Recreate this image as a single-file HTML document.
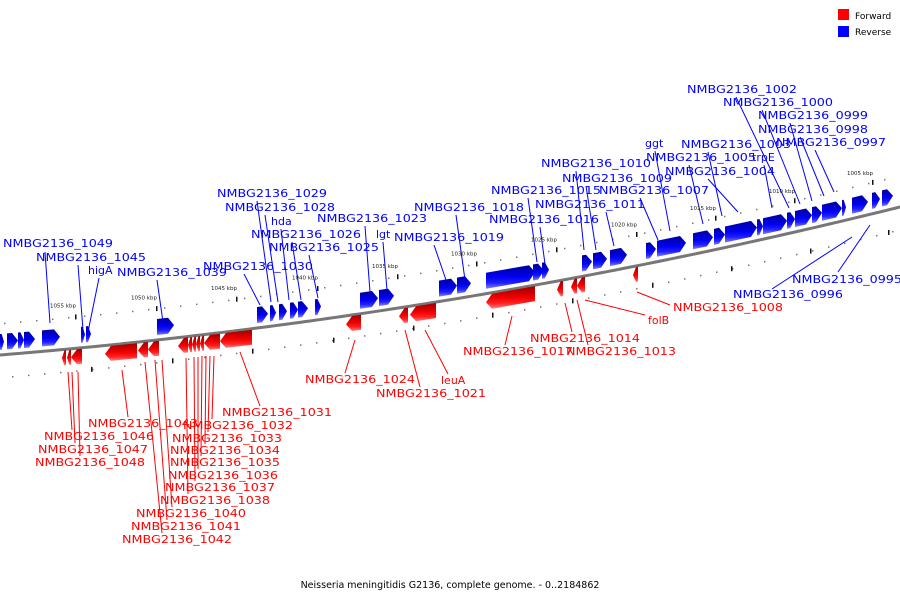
<!DOCTYPE html>
<html><head><meta charset="utf-8"><style>
html,body{margin:0;padding:0;background:#fff;}
svg{display:block;font-family:"DejaVu Sans","Liberation Sans",sans-serif;}
</style></head><body>
<svg id="chart" width="900" height="600" viewBox="0 0 900 600">
<defs>
<linearGradient id="gb" x1="0" y1="0" x2="0" y2="1"><stop offset="0" stop-color="#00009a"/><stop offset="0.5" stop-color="#0000f0"/><stop offset="0.75" stop-color="#2020ff"/><stop offset="1" stop-color="#8080ff"/></linearGradient>
<linearGradient id="gr" x1="0" y1="0" x2="0" y2="1"><stop offset="0" stop-color="#a00000"/><stop offset="0.5" stop-color="#f00000"/><stop offset="0.75" stop-color="#ff2020"/><stop offset="1" stop-color="#ff8080"/></linearGradient>
</defs>
<g id="dots"></g>
<path id="axis" fill="none" stroke="#777" stroke-width="3"/>
<g id="genes"></g>
<g id="labels"></g>
<g id="kbp"></g>
<g>
<rect x="838" y="9" width="11" height="11" fill="#f00"/>
<text x="855" y="19" font-size="9">Forward</text>
<rect x="838" y="26" width="11" height="11" fill="#00f"/>
<text x="855" y="35" font-size="9">Reverse</text>
</g>
<text x="450" y="588" font-size="9.5" text-anchor="middle">Neisseria meningitidis G2136, complete genome. - 0..2184862</text>
</svg>
<script>
const blueStarts=[0,7,18,24,42,81,86,157,257,270,279,290,298,315,360,379,439,457,486,533,542,582,593,610,646,657,693,714,725,757,763,787,795,812,822,842,852,872,882];
const blueEnds=[4,18,24,35,60,85,91,174,268,276,287,298,308,321,378,394,457,471,535,544,549,592,607,627,656,686,713,725,757,763,787,795,812,822,842,846,868,880,893];
const redStarts=[62,67,71,105,138,148,178,188,192,196,200,204,220,346,399,410,486,557,571,577,633];
const redEnds=[66,71,82,137,148,159,188,192,196,200,204,220,252,361,408,436,535,563,577,585,638];
const kbpLabels=["1055 kbp","1050 kbp","1045 kbp","1040 kbp","1035 kbp","1030 kbp","1025 kbp","1020 kbp","1015 kbp","1010 kbp","1005 kbp"];
const kbpX=[63,144,224,305,385,464,544,624,703,782,860];
// labels: text, text x, text y, gene x, gene y, leader x, leader y
const blueLabels=[
["NMBG2136_1049",3,247,50,323,45,252],["NMBG2136_1045",36,261,83,330,78,265],["higA",88,274,88,332,99,278],
["NMBG2136_1039",117,276,163,322,157,280],["NMBG2136_1030",203,270,260,305,244,274],
["NMBG2136_1029",217,197,271,302,257,201],["NMBG2136_1028",225,211,278,302,265,215],["hda",271,225,289,300,281,229],
["NMBG2136_1026",251,238,301,300,292,242],["NMBG2136_1025",269,251,318,298,309,255],["NMBG2136_1023",317,222,370,292,365,226],
["lgt",376,238,387,290,383,242],["NMBG2136_1018",414,211,465,280,456,215],["NMBG2136_1019",394,241,446,280,434,245],
["NMBG2136_1015",491,194,537,262,528,198],["NMBG2136_1016",489,223,545,264,540,227],["NMBG2136_1010",541,167,584,250,576,171],
["NMBG2136_1009",562,182,596,250,586,186],["NMBG2136_1011",535,208,614,246,606,212],["NMBG2136_1007",599,194,658,240,640,198],
["ggt",645,147,670,231,655,151],["NMBG2136_1005",646,161,703,224,689,165],["NMBG2136_1004",665,175,738,212,708,179],
["NMBG2136_1003",681,148,722,216,708,152],["trpE",752,161,772,208,764,165],["NMBG2136_1002",687,93,789,208,736,97],
["NMBG2136_1000",723,106,800,204,762,110],["NMBG2136_0999",758,119,812,201,790,123],["NMBG2136_0998",758,133,824,196,800,137],
["NMBG2136_0997",776,146,834,192,815,150],["NMBG2136_0995",792,283,870,225,838,272],["NMBG2136_0996",733,298,852,237,772,289]];
const redLabels=[
["NMBG2136_1046",44,440,68,372,72,430],["NMBG2136_1047",38,453,72,372,75,443],["NMBG2136_1048",35,466,78,372,80,456],
["NMBG2136_1043",88,427,122,370,128,417],["NMBG2136_1031",222,416,240,352,260,406],["NMBG2136_1032",183,429,214,356,212,419],
["NMBG2136_1033",172,442,210,356,208,432],["NMBG2136_1034",170,454,206,356,205,444],["NMBG2136_1035",170,466,202,356,201,456],
["NMBG2136_1036",168,479,198,357,198,469],["NMBG2136_1037",165,491,194,357,195,481],["NMBG2136_1038",160,504,186,358,188,494],
["NMBG2136_1040",136,517,162,360,172,507],["NMBG2136_1041",131,530,155,360,167,520],["NMBG2136_1042",122,543,145,362,162,533],
["NMBG2136_1024",305,383,355,340,345,373],["leuA",441,384,425,330,448,374],["NMBG2136_1021",376,397,405,330,420,387],
["NMBG2136_1017",463,355,512,316,505,345],["NMBG2136_1014",530,342,565,303,572,332],["NMBG2136_1013",566,355,577,300,588,345],
["folB",648,324,585,300,645,315],["NMBG2136_1008",673,311,637,292,670,305]];
const NS="http://www.w3.org/2000/svg";
function axisY(x){return 355-0.0811*x-0.0000926*x*x;}
function mk(t,a,p){const e=document.createElementNS(NS,t);for(const k in a)e.setAttribute(k,a[k]);p.appendChild(e);return e;}
let d="";for(let x=-5;x<=905;x+=5)d+=(x<0?"M":"L")+x+","+axisY(x).toFixed(2);
document.getElementById("axis").setAttribute("d",d);
const dots=document.getElementById("dots");
for(let x=4;x<900;x+=16){
 const a=mk("rect",{x:x,y:axisY(x)-32,width:1.5,height:1.5,fill:"#777"},dots);
 
 
 const b=mk("rect",{x:x+8,y:axisY(x+8)+22,width:1.5,height:1.5,fill:"#777"},dots);
 
 
}
const kg=document.getElementById("kbp");
kbpLabels.forEach((t,i)=>{const x=kbpX[i];
 const e=mk("text",{x:x,y:axisY(x)-42,"font-size":"5.5","text-anchor":"middle",fill:"#222"},kg);e.textContent=t;
 
 
 const m=mk("rect",{x:x+12,y:axisY(x+12)-34,width:1.5,height:5,fill:"#111"},kg);
 
 
 const m2=mk("rect",{x:x+28,y:axisY(x+28)+20,width:1.5,height:5,fill:"#111"},kg);
 
 
});
const gg=document.getElementById("genes");
function gene(x0,x1,blue){
 const w=x1-x0, head=Math.min(6,w*0.6), ya=axisY(x0), yb=axisY(x1);
 let pts;
 if(blue){const t=-21,b=-5,m=-13,xh=x1-head,yh=axisY(xh);
  pts=[[x0,ya+t],[xh,yh+t],[x1,yb+m],[xh,yh+b],[x0,ya+b]];}
 else{const t=1,b=16,m=8.5,xh=x0+head,yh=axisY(xh);
  pts=[[x0,ya+m],[xh,yh+t],[x1,yb+t],[x1,yb+b],[xh,yh+b]];}
 const p=mk("polygon",{points:pts.map(q=>q[0].toFixed(1)+","+q[1].toFixed(1)).join(" "),fill:blue?"url(#gb)":"url(#gr)"},gg);
 
 
}
blueStarts.forEach((s,i)=>gene(s,blueEnds[i],true));
redStarts.forEach((s,i)=>gene(s,redEnds[i],false));
const lg=document.getElementById("labels");
function label(L,col){
 const ln=mk("line",{x1:L[3],y1:L[4],x2:L[5],y2:L[6],stroke:col,"stroke-width":"1"},lg);
 
 
 const a={x:L[1],y:L[2],"font-size":"11",fill:col};
 if(L[0].startsWith("NMBG")){a.textLength="110";a.lengthAdjust="spacingAndGlyphs";}
 const t=mk("text",a,lg);t.textContent=L[0];
 
 
}
blueLabels.forEach(L=>label(L,"#0000ff"));
redLabels.forEach(L=>label(L,"#ff0000"));
</script>
</body></html>
